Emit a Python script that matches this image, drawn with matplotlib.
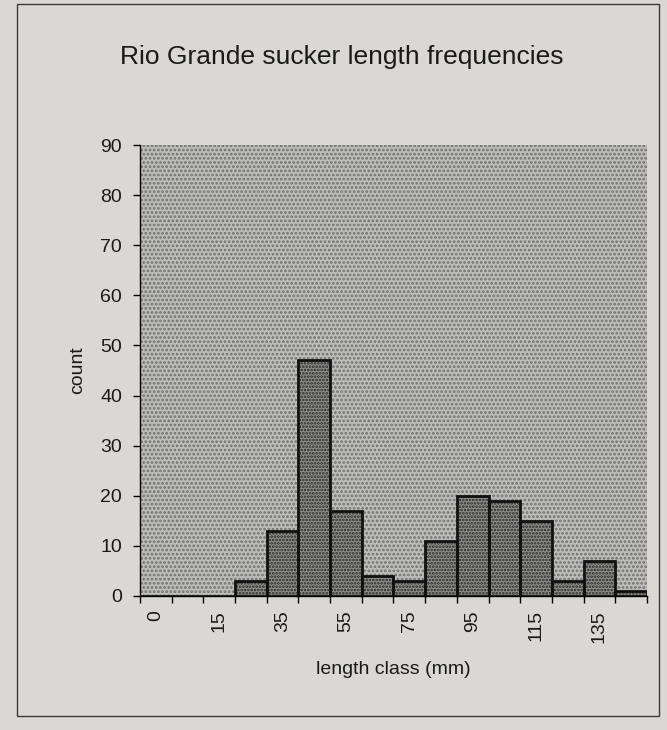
import matplotlib
matplotlib.use("Agg")
import matplotlib.pyplot as plt
from matplotlib.patches import Rectangle

plt.rcParams['font.family'] = ['Liberation Sans', 'DejaVu Sans']
plt.rcParams['hatch.linewidth'] = 1.3

categories = ["0", "5", "15", "25", "35", "45", "55", "65", "75", "85",
              "95", "105", "115", "125", "135", "145"]
counts = [0, 0, 0, 3, 13, 47, 17, 4, 3, 11, 20, 19, 15, 3, 7, 1]
yticks = [0, 10, 20, 30, 40, 50, 60, 70, 80, 90]

W, H = 667, 730
fig = plt.figure(figsize=(W / 100, H / 100), dpi=100)
fig.patch.set_facecolor('#d9d8d5')

# outer chart border
fig.patches.append(Rectangle((17 / W, 1 - 716 / H), (659 - 17) / W, (716 - 4) / H,
                             transform=fig.transFigure, fill=False,
                             edgecolor='#3a3a3a', linewidth=1.0))

ax = fig.add_axes([140 / W, 1 - 596 / H, (647 - 140) / W, (596 - 145) / H])
ax.set_facecolor('#bcbcba')
ax.add_patch(Rectangle((0, 0), 1, 1, transform=ax.transAxes, facecolor='none',
                       edgecolor='#707070', hatch='....', linewidth=0, zorder=0))

x = list(range(len(categories)))
ax.bar(x, counts, width=1.0, color='#8e8e8c', edgecolor='#2a2a2a', linewidth=0,
       hatch='.....', zorder=2)
ax.bar(x, counts, width=1.0, fill=False, edgecolor='#111111', linewidth=2.0,
       zorder=3)

ax.set_xlim(-0.5, len(categories) - 0.5)
ax.set_ylim(0, 90)

ax.set_yticks(yticks)
ax.set_yticklabels([str(v) for v in yticks], fontsize=14, color='#1a1a1a')
ax.tick_params(axis='y', direction='out', length=5, width=1, pad=8)

ax.set_xticks([i - 0.5 for i in range(len(categories) + 1)])
ax.set_xticklabels([])
ax.tick_params(axis='x', which='major', direction='out', length=5, width=1)
ax.set_xticks(x[::2], minor=True)
ax.set_xticklabels(categories[::2], minor=True, rotation=90, fontsize=14,
                   color='#1a1a1a')
ax.tick_params(axis='x', which='minor', length=0, pad=10)

for s in ['top', 'right']:
    ax.spines[s].set_visible(False)
ax.spines['left'].set_linewidth(1.0)
ax.spines['bottom'].set_linewidth(1.0)

ax.set_ylabel('count', fontsize=14, labelpad=10, color='#1a1a1a')
ax.set_xlabel('length class (mm)', fontsize=14, labelpad=13, color='#1a1a1a')

fig.text(342 / W, 1 - 64 / H, 'Rio Grande sucker length frequencies',
         ha='center', va='baseline', fontsize=19, color='#1a1a1a')

fig.savefig('out.png', dpi=100, facecolor=fig.get_facecolor())
